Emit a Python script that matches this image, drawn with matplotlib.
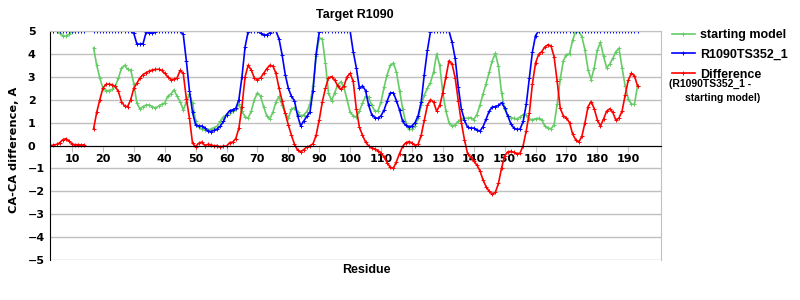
import numpy as np
import matplotlib
matplotlib.use('Agg')
import matplotlib.pyplot as plt
from matplotlib.lines import Line2D

nan = np.nan

# residues 3..193 (15 and 16 missing)
residues = list(range(3, 194))

# R1090TS352_1
blue = [5, 5, 5, 5, 5, 5, 5,
        5, 5, 5, 5, 5, nan, nan, 5, 5, 5,
        5, 5, 5, 5, 5, 5, 5, 5, 5, 5,
        4.9, 4.43, 4.43, 4.45, 4.95, 4.93, 4.93, 4.95, 5, 5,
        5, 5, 5, 5, 5, 5, 4.85, 3.7, 2.4, 1.45,
        0.9, 0.85, 0.85, 0.76, 0.63, 0.61, 0.66, 0.72, 0.85, 1.05,
        1.35, 1.52, 1.56, 1.62, 2.0, 3.0, 4.3, 4.97, 5, 5,
        5, 4.9, 4.83, 4.83, 4.92, 5, 5, 4.65, 3.95, 3.1,
        2.5, 2.15, 1.95, 1.3, 0.86, 1.07, 1.27, 1.45, 2.4, 4.0,
        4.95, 5, 5, 5, 5, 5, 5, 5, 5, 5,
        5, 4.1, 3.4, 2.5, 2.6, 2.4, 1.75, 1.35, 1.22, 1.19,
        1.3, 1.55, 1.95, 2.3, 2.3, 1.95, 1.55, 1.05, 0.88, 0.82,
        0.85, 1.0, 1.3, 1.9, 3.1, 4.15, 4.97, 5, 5, 5,
        5, 5, 5, 4.5, 3.8, 2.55, 1.6, 1.1, 0.8, 0.76,
        0.76, 0.68, 0.63, 0.82, 1.15, 1.5, 1.68, 1.7, 1.75, 1.87,
        1.65, 1.3, 0.95, 0.76, 0.7, 0.72, 1.05, 1.8, 2.94, 4.1,
        4.8, 5, 5, 5, 5, 5, 5, 5, 5, 5,
        5, 5, 5, 5, 5, 5, 5, 5, 5, 5,
        5, 5, 5, 5, 5, 5, 5, 5, 5, 5,
        5, 5, 5, 5]

# starting model
green = [5, 5, 5, 4.9, 4.8, 4.77, 4.85,
         4.97, 5, 5, 5, 5, nan, nan, 4.26, 3.5, 2.95,
         2.5, 2.4, 2.4, 2.45, 2.58, 2.94, 3.37, 3.5, 3.33, 3.3,
         2.7, 1.85, 1.6, 1.7, 1.77, 1.77, 1.7, 1.63, 1.72, 1.8,
         1.85, 2.15, 2.25, 2.43, 2.15, 1.92, 1.55, 1.9, 2.25, 1.85,
         1.05, 0.8, 0.72, 0.68, 0.68, 0.72, 0.78, 0.85, 1.05, 1.25,
         1.34, 1.4, 1.5, 1.6, 1.8, 1.5, 1.25, 1.2, 1.5, 2.0,
         2.3, 2.15, 1.7, 1.3, 1.15, 1.45, 1.9, 2.14, 1.77, 1.4,
         1.19, 1.6, 1.65, 1.45, 1.28, 1.34, 1.48, 1.8, 2.6, 3.9,
         4.7, 4.65, 3.6, 2.3, 1.95, 2.3, 2.65, 2.78, 2.55, 2.0,
         1.45, 1.3, 1.25, 1.5, 1.85, 2.15, 2.1, 1.75, 1.5, 1.5,
         1.9, 2.55, 3.1, 3.5, 3.6, 3.2, 2.4, 1.6, 1.0, 0.7,
         0.7, 0.85, 1.2, 1.75, 2.2, 2.5, 2.75, 3.2, 4.0, 3.5,
         2.3, 1.5, 1.0, 0.85, 0.9, 1.05, 1.15, 1.19, 1.19, 1.22,
         1.13, 1.35, 1.75, 2.25, 2.7, 3.2, 3.7, 4.02, 3.45, 2.3,
         1.6, 1.3, 1.22, 1.18, 1.15, 1.25, 1.35, 1.32, 1.15, 1.13,
         1.17, 1.18, 1.12, 0.85, 0.77, 0.73, 0.9, 1.8, 2.9, 3.7,
         3.97, 4.0, 4.6, 4.97, 4.98, 4.75, 4.17, 3.3, 2.88, 3.4,
         4.17, 4.5, 3.9, 3.4, 3.55, 3.8, 4.1, 4.25, 3.4, 2.6,
         2.05, 1.8, 1.8, 2.6]

# Difference (R1090TS352_1 - starting model)
red = [0, 0.02, 0.05, 0.12, 0.25, 0.3, 0.2,
       0.07, 0.03, 0.04, 0.02, 0.03, nan, nan, 0.74, 1.45, 2.0,
       2.5, 2.67, 2.68, 2.65, 2.58, 2.36, 1.92, 1.72, 1.7, 2.0,
       2.5, 2.72, 2.95, 3.1, 3.18, 3.25, 3.3, 3.32, 3.33, 3.28,
       3.15, 3.0, 2.88, 2.9, 2.95, 3.28, 3.15, 2.05, 1.2, 0.1,
       -0.05, 0.1, 0.15, 0.0, 0.05, 0.03, -0.02, 0.0, -0.08, -0.02,
       -0.03, 0.12, 0.15, 0.3, 0.75, 1.7, 3.0, 3.5, 3.3, 2.95,
       2.88, 2.95, 3.15, 3.35, 3.5, 3.47, 3.15, 2.5, 1.95, 1.4,
       0.9, 0.45, 0.05, -0.2, -0.28, -0.18, -0.07, -0.02, 0.08, 0.45,
       1.12, 1.9, 2.5, 2.95, 3.01, 2.86, 2.6, 2.45, 2.6, 3.0,
       3.15, 2.8, 1.6, 0.8, 0.45, 0.15, -0.02, -0.1, -0.15, -0.22,
       -0.33, -0.5, -0.75, -0.95, -1.0, -0.7, -0.35, -0.04, 0.12, 0.17,
       0.12, 0.0, 0.05, 0.45, 1.1, 1.75, 2.0, 1.9, 1.5, 1.75,
       2.3, 3.0, 3.7, 3.55, 2.95, 1.95, 1.0, 0.25, -0.35, -0.5,
       -0.68, -0.85, -1.1, -1.5, -1.8, -2.0, -2.12, -2.05, -1.65, -0.99,
       -0.45, -0.28, -0.26, -0.3, -0.36, -0.33, 0.0, 0.65, 1.41, 2.7,
       3.6, 3.98, 4.1, 4.3, 4.4, 4.35, 3.88, 2.8, 1.62, 1.3,
       1.2, 1.0, 0.5, 0.25, 0.15, 0.4, 1.0, 1.7, 1.92, 1.6,
       1.12, 0.85, 1.15, 1.5, 1.6, 1.45, 1.1, 1.2, 1.5, 2.2,
       2.85, 3.15, 3.05, 2.6]

xticks = list(range(10, 200, 10))
yticks = list(range(-5, 6))

title = 'Target R1090'
ylabel = 'CA-CA difference, A'
xlabel = 'Residue'
labels = ['starting model', 'R1090TS352_1', 'Difference']

c_green = '#66cc66'
c_blue = '#0000ff'
c_red = '#ff0000'

fig = plt.figure(figsize=(8, 3), dpi=100)
ax = fig.add_axes([50/800, 1-260/300, 611/800, 229/300])

kw = dict(lw=1.2, marker='+', ms=3, mew=0.7)
ax.plot(residues, green, color=c_green, **kw)
ax.plot(residues, blue, color=c_blue, **kw)
ax.plot(residues, red, color=c_red, **kw)

ax.set_xlim(2.88, 200.6)
ax.set_ylim(-5, 5)
ax.set_yticks(yticks)
ax.set_xticks(xticks)
ax.yaxis.grid(True, color='#c0c0c0', lw=1)
ax.set_axisbelow(True)

ax.spines['bottom'].set_position(('data', 0))
ax.spines['bottom'].set_color('black')
ax.spines['left'].set_color('black')
ax.spines['top'].set_color('#c0c0c0')
ax.spines['right'].set_color('#c0c0c0')
# y labels are left aligned at x~28 px like the original
ax.tick_params(axis='y', length=0, pad=16)
ax.tick_params(axis='x', length=4, color='#c0c0c0', direction='out', pad=2)
for t in ax.get_xticklabels() + ax.get_yticklabels():
    t.set_fontfamily('DejaVu Sans')
    t.set_fontweight('bold')
    t.set_fontsize(8)
for t in ax.get_yticklabels():
    t.set_horizontalalignment('left')

fig.text(355/800, 1-15/300, title, ha='center', va='center',
         family='Liberation Sans', weight='bold', fontsize=9)
fig.text(366/800, 1-270/300, xlabel, ha='center', va='center',
         family='Liberation Sans', weight='bold', fontsize=9)
fig.text(14/800, 1-150/300, ylabel, ha='center', va='center', rotation=90,
         family='DejaVu Sans', weight='bold', fontsize=8.2)

handles = [Line2D([], [], color=c, **kw) for c in (c_green, c_blue, c_red)]
fig.legend(handles, labels, loc='upper left', bbox_to_anchor=(667/800, 1-24/300),
           frameon=False, numpoints=1, handlelength=1.8, handletextpad=0.45,
           labelspacing=0.62, borderaxespad=0,
           prop=dict(family='Liberation Sans', weight='bold', size=9))
fig.text(669/800, 1-84/300, '(R1090TS352_1 -', ha='left', va='center',
         family='Liberation Sans', weight='bold', fontsize=7.5)
fig.text(685/800, 1-98/300, 'starting model)', ha='left', va='center',
         family='Liberation Sans', weight='bold', fontsize=7.5)

fig.savefig('out.png', dpi=100)
